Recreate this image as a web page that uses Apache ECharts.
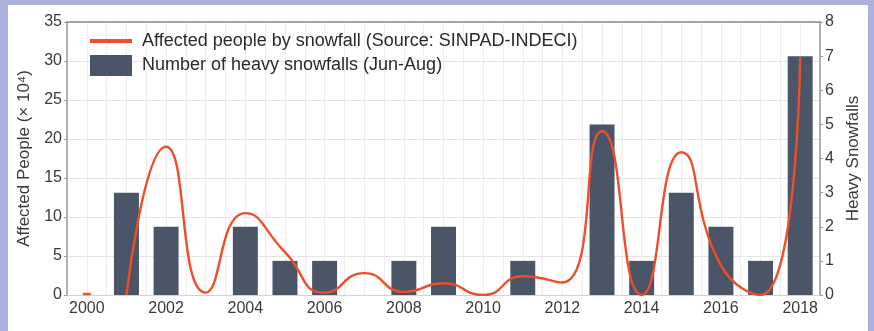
<!DOCTYPE html>
<html>
<head>
<meta charset="utf-8">
<script src="https://cdn.jsdelivr.net/npm/echarts@6/dist/echarts.min.js"></script>
<style>
  html, body { margin: 0; padding: 0; background: #a9b1dc; width: 874px; height: 331px; overflow: hidden; }
  #card { position: absolute; left: 8px; top: 5px; width: 860px; height: 326px; background: #ffffff; }
  #chart { position: absolute; left: 0; top: 0; width: 874px; height: 331px; }
</style>
</head>
<body>
<div id="card"></div>
<div id="chart"></div>
<script>
const years = ['2000','2001','2002','2003','2004','2005','2006','2007','2008','2009','2010','2011','2012','2013','2014','2015','2016','2017','2018'];
const heavySnowfalls = [0, 3, 2, 0, 2, 1, 1, 0, 1, 2, 0, 1, 0, 5, 1, 3, 2, 1, 7];
const affectedPeople = ['-', 0, 19, 0.3, 10.5, 5.5, 0.3, 2.8, 0.4, 1.5, 0, 2.4, 1.6, 21, 0, 18.3, 3.8, 0, 30.5];
const affectedStart = { year: '2000', value: 0 };
const leftTicks = [0, 35, 5];
const rightTicks = [0, 8, 1];

const FONT = 'Liberation Sans, Arial, sans-serif';
const chart = echarts.init(document.getElementById('chart'), null, { renderer: 'canvas' });
chart.setOption({
  backgroundColor: 'transparent',
  animation: false,
  textStyle: { fontFamily: FONT },
  grid: { left: 67, right: 54, top: 22, bottom: 36, containLabel: false },
  legend: {
    orient: 'vertical', left: 90, top: 32, padding: 0,
    itemWidth: 42, itemHeight: 21, itemGap: 5, itemTextGap: 10,
    symbolKeepAspect: true,
    textStyle: { fontSize: 18, color: '#2a2a2a', fontFamily: FONT, padding: [0, 0, 0, 5] },
    data: [
      { name: 'Affected people by snowfall (Source: SINPAD-INDECI)', icon: 'path://M0,0 L42,0 L42,4 L0,4 Z', itemStyle: { color: '#f04e2a' } },
      { name: 'Number of heavy snowfalls (Jun-Aug)', icon: 'rect' }
    ]
  },
  xAxis: [
    {
      type: 'category', data: years, boundaryGap: true,
      axisLine: { show: true, lineStyle: { color: '#d2d2d2' } },
      axisTick: { show: false },
      axisLabel: { interval: 1, margin: 6, fontSize: 16, color: '#3a3a3a', fontFamily: FONT },
      splitLine: { show: false }
    },
    {
      type: 'value', min: 0, max: 38, interval: 1, position: 'top',
      axisLine: { show: true, onZero: false, lineStyle: { color: '#8a8a8a', width: 1.5 } },
      axisTick: { show: false }, axisLabel: { show: false },
      splitLine: { show: true, lineStyle: { color: '#ededed', width: 1 } }
    }
  ],
  yAxis: [
    {
      type: 'value', min: leftTicks[0], max: leftTicks[1], interval: leftTicks[2], position: 'left',
      name: 'Affected People (× 10⁴)', nameLocation: 'middle', nameGap: 33, nameRotate: 90,
      nameTextStyle: { fontSize: 17, color: '#3a3a3a', fontFamily: FONT },
      axisLine: { show: true, lineStyle: { color: '#9a9a9a', width: 1.5 } },
      axisTick: { show: true, length: 3, lineStyle: { color: '#9a9a9a' } },
      axisLabel: { margin: 5, fontSize: 16, color: '#3a3a3a', fontFamily: FONT },
      splitLine: { show: true, lineStyle: { color: '#e4e4e4', width: 1 } }
    },
    {
      type: 'value', min: rightTicks[0], max: rightTicks[1], interval: rightTicks[2], position: 'right',
      name: 'Heavy Snowfalls', nameLocation: 'middle', nameGap: 22, nameRotate: 90,
      nameTextStyle: { fontSize: 17, color: '#3a3a3a', fontFamily: FONT },
      axisLine: { show: true, lineStyle: { color: '#9a9a9a', width: 1.5 } },
      axisTick: { show: true, length: 3, lineStyle: { color: '#9a9a9a' } },
      axisLabel: { margin: 5, fontSize: 16, color: '#3a3a3a', fontFamily: FONT },
      splitLine: { show: false }
    }
  ],
  series: [
    {
      name: 'Number of heavy snowfalls (Jun-Aug)', type: 'bar', yAxisIndex: 1, xAxisIndex: 0,
      data: heavySnowfalls, barWidth: '63%',
      itemStyle: { color: '#4a5567' }, z: 2
    },
    {
      name: 'Affected people by snowfall (Source: SINPAD-INDECI)', type: 'line', yAxisIndex: 0, xAxisIndex: 0,
      data: affectedPeople, smooth: 0.55, symbol: 'none', clip: true,
      lineStyle: { color: '#f04e2a', width: 2.4 }, itemStyle: { color: '#f04e2a' }, z: 3,
      markPoint: {
        silent: true, symbol: 'rect', symbolSize: [8, 2.4], label: { show: false },
        itemStyle: { color: '#f04e2a' },
        data: [{ coord: [affectedStart.year, affectedStart.value], symbolOffset: [0, -1] }]
      }
    }
  ]
});
</script>
</body>
</html>
